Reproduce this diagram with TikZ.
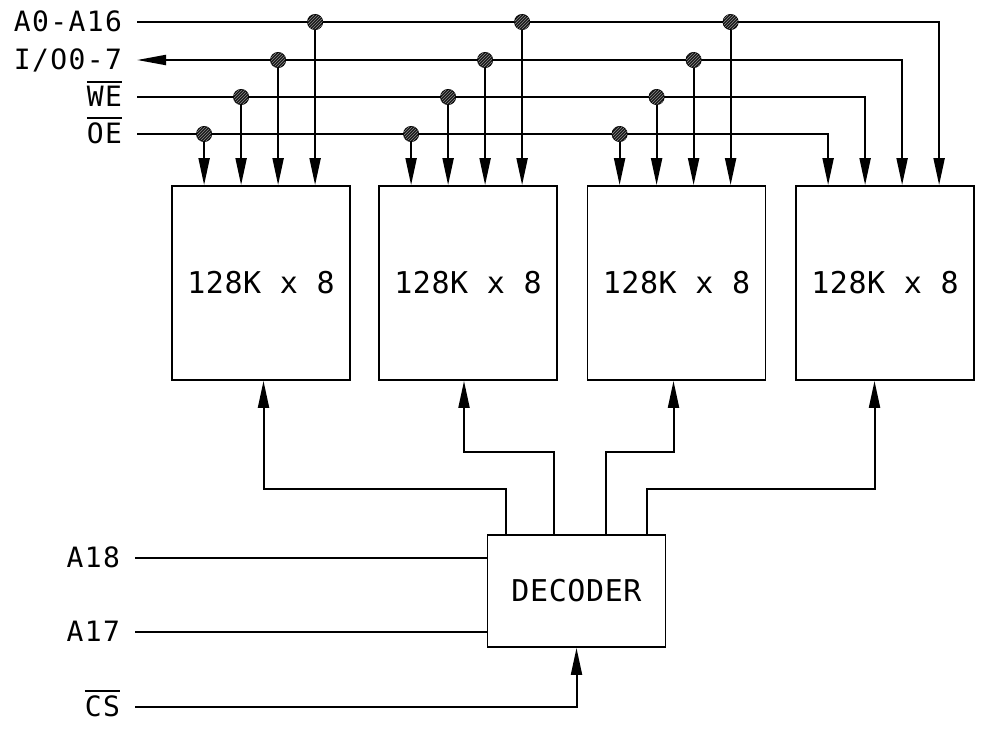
\documentclass[tikz,border=0pt]{standalone}
\usepackage{fontspec}
\newfontfamily\sigfont[LetterSpace=5]{DejaVu Sans Mono}
\newfontfamily\boxfont[LetterSpace=2]{DejaVu Sans Mono}
\usetikzlibrary{arrows.meta,patterns}
\newcommand{\ovl}[1]{\vbox{\hrule height 2pt\kern 3.5pt\hbox{#1}}}

\begin{document}
\begin{tikzpicture}[
  x=1pt, y=-1pt,
  wire/.style={line width=2pt, draw=black},
  arr/.style={wire, -{Triangle[length=27pt,width=11pt]}},
  mem/.style={draw=black, line width=1.8pt, minimum width=178pt, minimum height=194pt, inner sep=0pt, font=\boxfont\fontsize{30}{36}\selectfont},
  dec/.style={mem, minimum height=112pt},
  sig/.style={anchor=east, inner sep=0pt, outer xsep=15pt, text height=19pt, text depth=0pt, font=\sigfont\fontsize{28}{34}\selectfont},
  tap/.style={circle, draw=black, line width=1pt, fill=black!90, inner sep=0pt, minimum size=15pt, postaction={pattern=north east lines, pattern color=black!45}}
]
  \useasboundingbox (0,0) rectangle (981,734);

  % Bloques de memoria y decodificador
  \node[mem] (m1) at (261,283) {128K x 8};
  \node[mem] (m2) at (468,283) {128K x 8};
  \node[mem] (m3) at (676.5,283) {128K x 8};
  \node[mem] (m4) at (885,283) {128K x 8};
  \node[dec] (dec) at (576.5,591) {DECODER};

  % Entradas superiores de cada bloque
  \foreach \i in {1,...,4}
    \foreach \j/\dx in {1/33,2/70,3/107,4/144}
      \coordinate (m\i-\j) at ([xshift=\dx pt]m\i.north west);

  % Etiquetas de las señales
  \node[sig] (la) at (137,22) {A0-A16};
  \node[sig] (lio) at (137,60) {I/O0-7};
  \node[sig] (lwe) at (137,97) {\ovl{WE}};
  \node[sig] (loe) at (137,134) {\ovl{OE}};
  \node[sig] (l18) at (135,558) {A18};
  \node[sig] (l17) at (135,632) {A17};
  \node[sig] (lcs) at (135,707) {\ovl{CS}};

  % Buses hasta el cuarto bloque
  \draw[arr] (la.east) -| (m4-4);
  \draw[wire, {Triangle[length=29pt,width=10pt]}-{Triangle[length=27pt,width=11pt]}] (lio.east) -| (m4-3);
  \draw[arr] (lwe.east) -| (m4-2);
  \draw[arr] (loe.east) -| (m4-1);

  % Derivaciones a los bloques 1-3
  \foreach \i in {1,2,3}
    \foreach \j/\s in {1/loe,2/lwe,3/lio,4/la} {
      \node[tap] (t\i-\j) at (m\i-\j |- \s.east) {};
      \draw[arr] (t\i-\j) -- (m\i-\j);
    }

  % Salidas del decodificador
  \foreach \k/\dx in {1/19,2/67,3/119,4/160}
    \coordinate (d\k) at ([xshift=\dx pt]dec.north west);
  \draw[arr] (d1) -- ++(0,-45) -| ([xshift=2.5pt]m1.south);
  \draw[arr] (d2) -- ++(0,-82) -| ([xshift=-4pt]m2.south);
  \draw[arr] (d3) -- ++(0,-82) -| ([xshift=-3pt]m3.south);
  \draw[arr] (d4) -- ++(0,-45) -| ([xshift=-10.5pt]m4.south);

  % Entradas del decodificador
  \draw[wire] (l18.east) -- (l18.east -| dec.west);
  \draw[wire] (l17.east) -- (l17.east -| dec.west);
  \draw[arr] (lcs.east) -| (dec.south);
\end{tikzpicture}
\end{document}
